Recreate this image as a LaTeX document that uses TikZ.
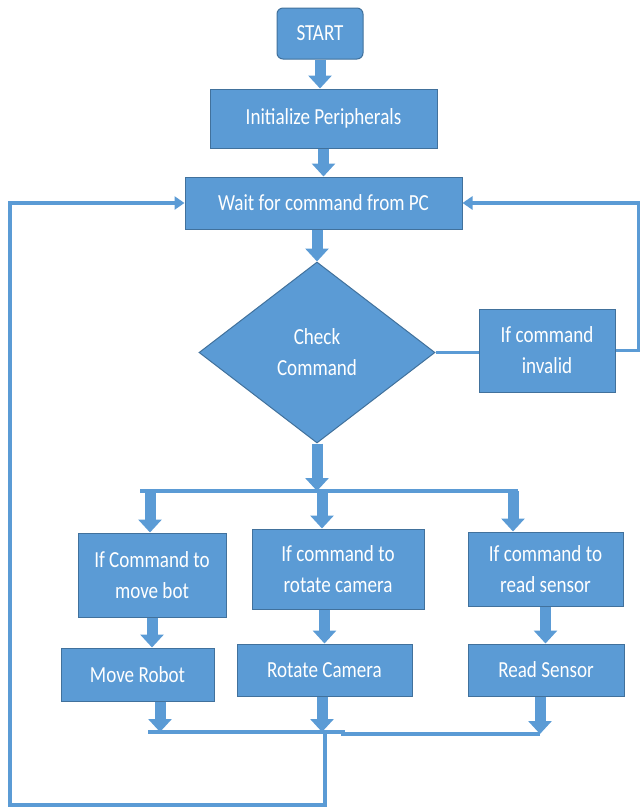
\documentclass[tikz,border=0pt]{standalone}
\usepackage{fontspec}
\setmainfont{Carlito}[FakeStretch=0.83]
\usetikzlibrary{shapes.geometric,arrows.meta}
\definecolor{boxblue}{RGB}{91,155,213}
\definecolor{edgeblue}{RGB}{65,113,156}
\begin{document}
\begin{tikzpicture}[x=1pt,y=-1pt,
    box/.style={draw=edgeblue,fill=boxblue,line width=1pt,text=white,align=center,inner sep=0pt,font=\fontsize{23}{31}\selectfont},
    fat/.style={draw=boxblue,line width=11pt,-{Triangle[width=23pt,length=13pt]}},
    wire/.style={draw=boxblue,line width=3.5pt},
    >={Triangle[width=13pt,length=10pt]}]
\useasboundingbox (0,0) rectangle (640,807);
\node[box,rounded corners=6pt,minimum width=86pt,minimum height=51pt](start) at (320,33.5){START};
\node[box,minimum width=227pt,minimum height=59pt](init) at (323.5,118.5){Initialize Peripherals};
\node[box,minimum width=277pt,minimum height=52pt](wait) at (323.5,203){Wait for command from PC};
\node[box,diamond,aspect=1.3,minimum width=236pt,minimum height=181pt](check) at (317,352.5){Check\\Command};
\node[box,minimum width=136pt,minimum height=83pt](invalid) at (547,350.5){If command\\invalid};
\node[box,minimum width=148pt,minimum height=84pt](cmove) at (152,575){If Command to\\move bot};
\node[box,minimum width=172pt,minimum height=80pt](crot) at (338,569){If command to\\rotate camera};
\node[box,minimum width=155pt,minimum height=74pt](csens) at (545.5,569){If command to\\read sensor};
\node[box,minimum width=153pt,minimum height=53pt](move) at (137.5,674.5){Move Robot};
\node[box,minimum width=175pt,minimum height=52pt](rotate) at (324.5,670){Rotate Camera};
\node[box,minimum width=156pt,minimum height=52pt](sensor) at (546,670){Read Sensor};

\coordinate (busL) at (140,491);
\coordinate (busR) at (518,491);
\coordinate (b1) at (150,491);
\coordinate (b2) at (322,491);
\coordinate (b3) at (513,491);
\coordinate (j1) at (160,732);
\coordinate (j2) at (322,732);
\coordinate (j3) at (540,734);
\coordinate (jL) at (148,732);
\coordinate (jM) at (343,732);
\coordinate (back) at (325,732);

\draw[fat](start)--(start|-init.north);
\draw[fat](init)--(init|-wait.north);
\draw[fat](wait.south-|check)--(check.north);
\draw[fat](check.south)--(check.south|-busL);
\draw[wire](busL)--(busR);
\foreach \b/\n in {b1/cmove,b2/crot,b3/csens}
{
    \draw[fat](\b)--(\b|-\n.north);
}
\draw[fat](cmove.south)--(cmove.south|-move.north);
\draw[fat](rotate.north|-crot.south)--(rotate.north);
\draw[fat](csens.south)--(csens.south|-sensor.north);
\foreach \j/\n in {j1/move,j2/rotate,j3/sensor}
{
    \draw[fat](\j|-\n.south)--(\j);
}
\draw[wire](jL)--(jM)--(jM|-j3)--(j3);
\draw[wire,->](back)--++(0,73)-|(10,205)|-(wait.west);
\draw[wire](check.east)--(check.east-|invalid.west);
\draw[wire,->](invalid.east)--++(23,0)|-(wait.east);

    \end{tikzpicture}
\end{document}
